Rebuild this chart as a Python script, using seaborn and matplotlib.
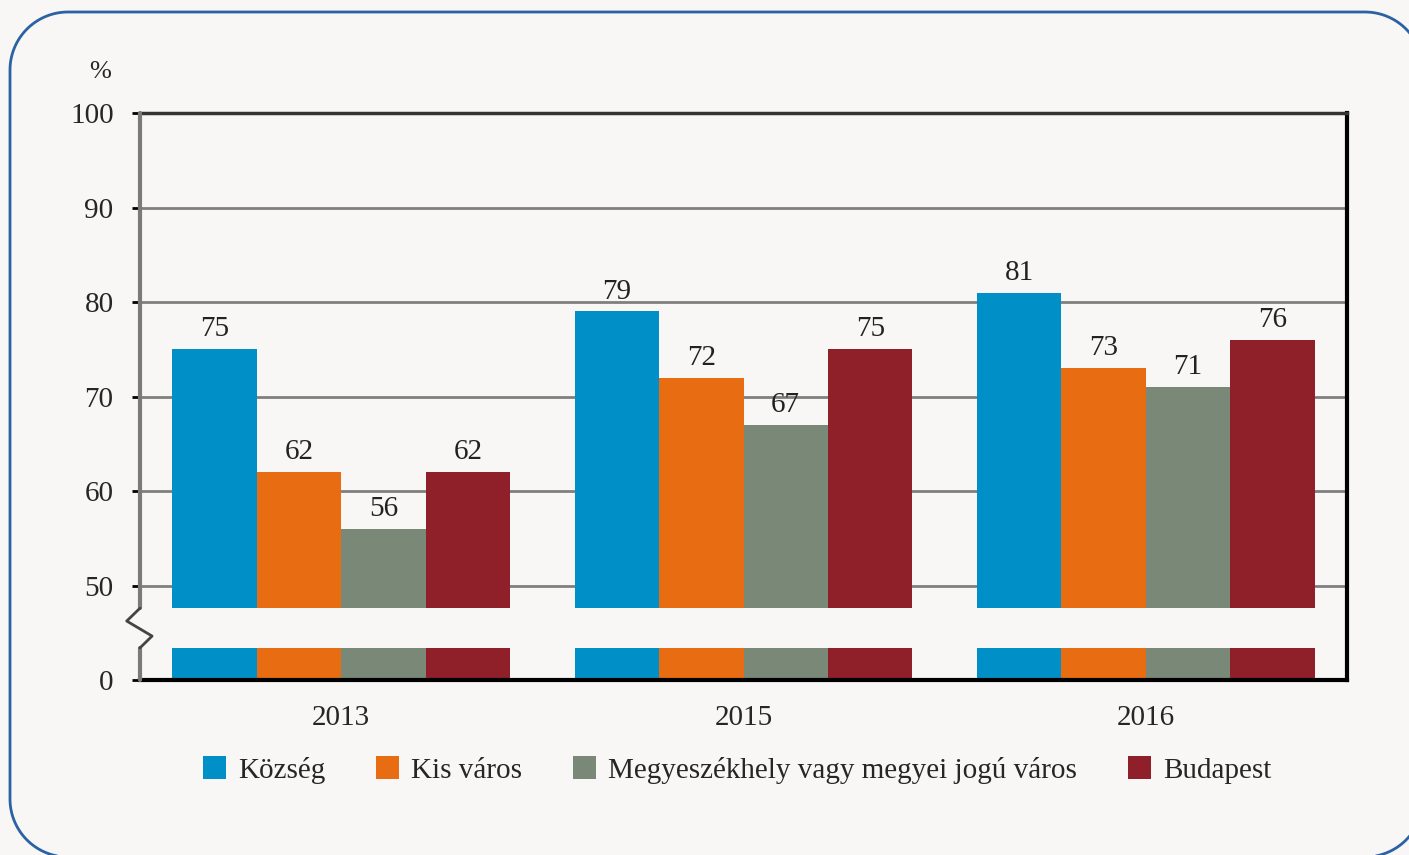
#!/usr/bin/python3
# Bar chart with broken y axis (0 .. 50 compressed)

import numpy
import pandas
import matplotlib.pyplot as plt
import seaborn as sns
from matplotlib.patches import PathPatch, Patch
from matplotlib.path import Path
from matplotlib.transforms import IdentityTransform

FONT_SIZE = 21
BG = "#f8f7f5"

#############
# Data      #
#############
years = ["2013", "2015", "2016"]
categories = ["Község", "Kis város", "Megyeszékhely vagy megyei jogú város", "Budapest"]
kozseg = [75, 79, 81]
kis_varos = [62, 72, 73]
megyeszekhely = [56, 67, 71]
budapest = [62, 75, 76]
colors = ["#008fc7", "#e86c12", "#7a8877", "#8f1f29"]

y_ticks = [0, 50, 60, 70, 80, 90, 100]

# the axis squeezes 0..50 into one 10-unit step
OFFSET = 40
GAP = (3.4, 7.6)

rows = []
for cat, vals in zip(categories, [kozseg, kis_varos, megyeszekhely, budapest]):
    for year, v in zip(years, vals):
        rows.append({"Year": year, "Type": cat, "Value": v, "Plot": v - OFFSET})
df = pandas.DataFrame(rows)

sns.set_style("white")
plt.rcParams.update({
    "font.size": FONT_SIZE,
    "font.family": ["Liberation Serif", "DejaVu Serif"],
})

fig = plt.figure(figsize=(14.09, 8.55), dpi=100, facecolor=BG)
ax = fig.add_axes([140 / 1409, 1 - 680 / 855, (1347 - 140) / 1409, (680 - 113) / 855])
ax.set_facecolor(BG)

sns.barplot(
    data=df, x="Year", y="Plot", hue="Type",
    hue_order=categories, palette=colors,
    width=0.84, errorbar=None, saturation=1,
    linewidth=0, ax=ax, legend=False,
)

# value labels
for cont, cat in zip(ax.containers, categories):
    labels = [str(v) for v in df.loc[df["Type"] == cat, "Value"]]
    ax.bar_label(cont, labels=labels, padding=5, fontsize=FONT_SIZE, color="#222222")

# break band across the bars
ax.axhspan(GAP[0], GAP[1], color=BG, zorder=2, linewidth=0)

# axes
ax.set_xlim(-0.5, 2.5)
ax.set_ylim(0, 60)
ax.set_yticks([0] + [t - OFFSET for t in y_ticks[1:]])
ax.set_yticklabels([str(t) for t in y_ticks])
ax.set_xlabel("")
ax.set_ylabel("")
ax.tick_params(axis="y", length=6, width=2, color="black", direction="out", pad=13, left=True)
ax.tick_params(axis="x", length=0, pad=18)

ax.set_axisbelow(True)
for t in y_ticks[1:]:
    ax.axhline(t - OFFSET, color="#7f7f7f", linewidth=2, zorder=0.5)

ax.spines["left"].set_visible(False)
ax.spines["top"].set_color("#333333")
ax.spines["top"].set_linewidth(2.5)
ax.spines["right"].set_color("black")
ax.spines["right"].set_linewidth(3)
ax.spines["bottom"].set_color("black")
ax.spines["bottom"].set_linewidth(3)

# broken left spine with zigzag
ytr = ax.get_yaxis_transform()
ax.plot([0, 0], [0, GAP[0]], color="#7a7a7a", linewidth=3, transform=ytr, clip_on=False, zorder=3)
ax.plot([0, 0], [GAP[1], 60], color="#7a7a7a", linewidth=3, transform=ytr, clip_on=False, zorder=3)
ax.plot([0, -0.011, 0.010, 0], [GAP[1], 6.24, 4.65, GAP[0]], color="#444444",
        linewidth=2, transform=ytr, clip_on=False, zorder=3)

# % label
fig.text(100 / 1409, 1 - 72 / 855, "%", ha="center", va="center", fontsize=FONT_SIZE * 0.9)

# legend
handles = [Patch(facecolor=c, edgecolor="none") for c in colors]
fig.legend(
    handles, categories, loc="center", bbox_to_anchor=(737 / 1409, 1 - 770 / 855),
    ncol=4, frameon=False, handlelength=0.8, handleheight=0.8,
    handletextpad=0.4, columnspacing=1.75, fontsize=FONT_SIZE,
)

# rounded frame, built as a polyline (display pixels)
r = 58
x0, x1, y0, y1 = 10, 1423, -2, 843
t = numpy.linspace(0, numpy.pi / 2, 30)
pts = []
pts += list(zip(x1 - r + r * numpy.cos(t), y1 - r + r * numpy.sin(t)))
pts += list(zip(x0 + r - r * numpy.sin(t), y1 - r + r * numpy.cos(t)))
pts += list(zip(x0 + r - r * numpy.cos(t), y0 + r - r * numpy.sin(t)))
pts += list(zip(x1 - r + r * numpy.sin(t), y0 + r - r * numpy.cos(t)))
pts.append(pts[0])
frame = PathPatch(Path(pts), transform=IdentityTransform(), facecolor="none",
                  edgecolor="#2a62a3", linewidth=2)
fig.add_artist(frame)

fig.savefig("out.png", dpi=100, facecolor=BG)
